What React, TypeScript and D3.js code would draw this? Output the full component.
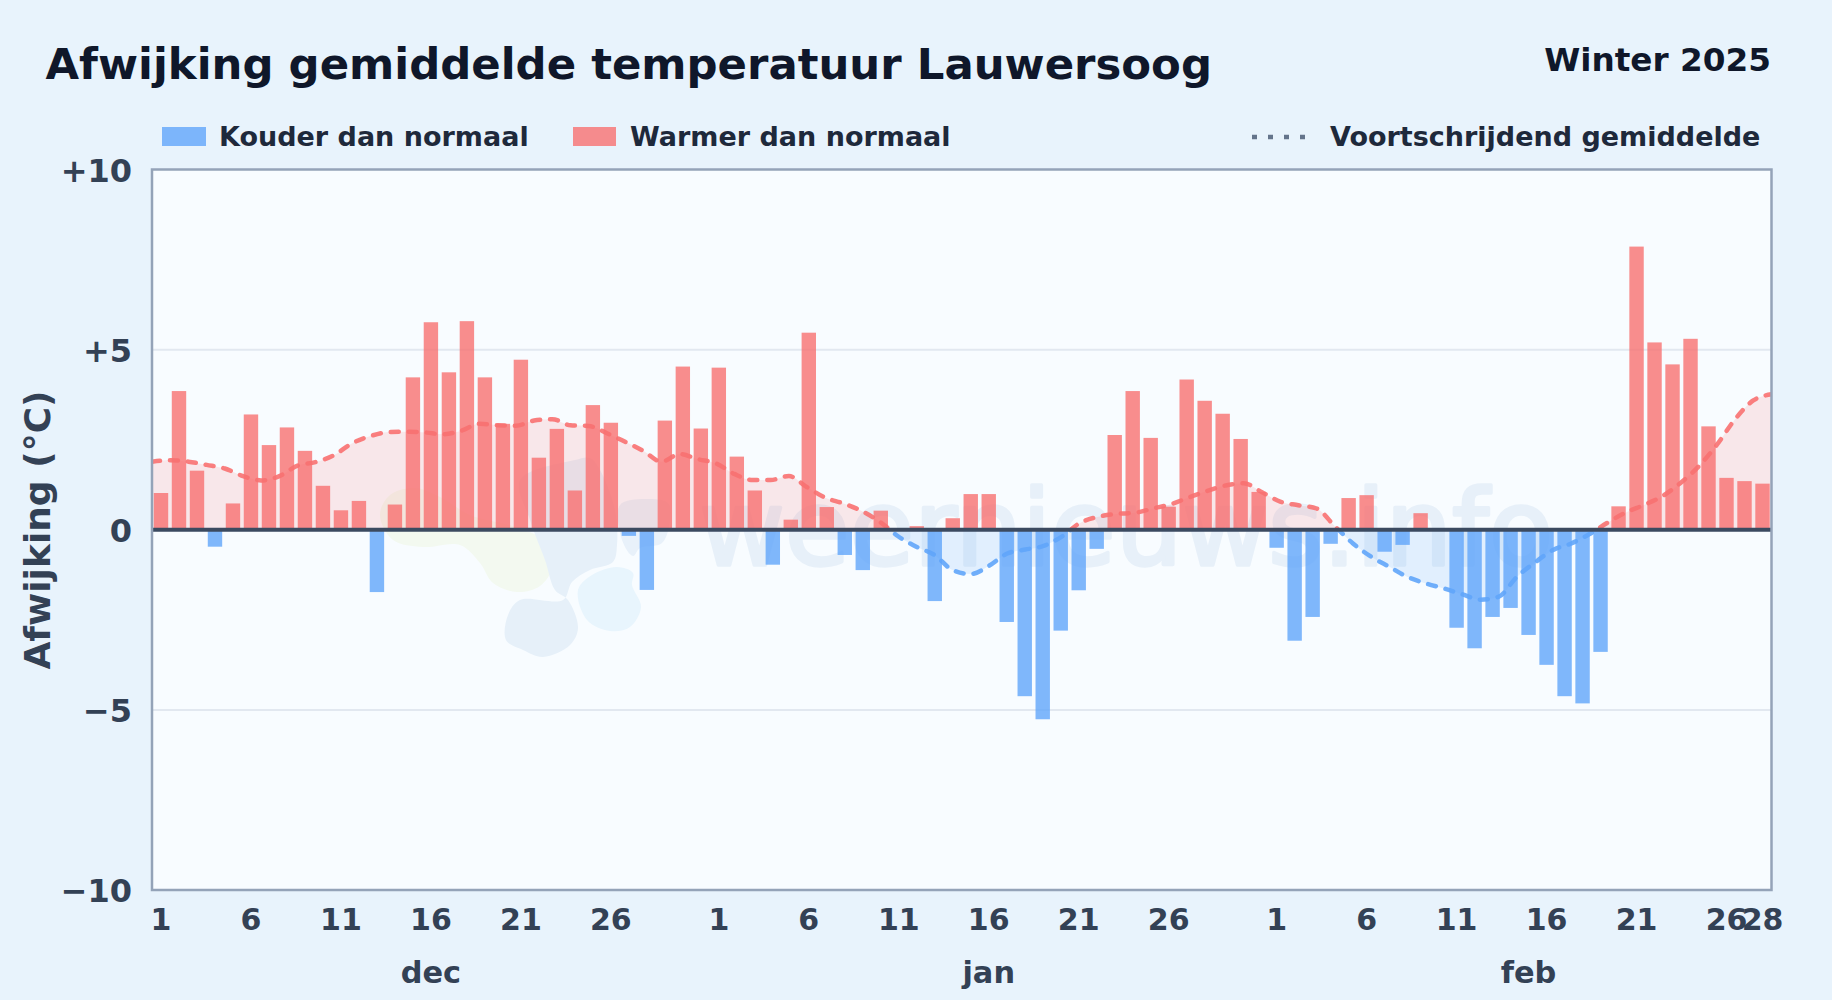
import { useEffect, useRef } from "react";
import * as d3 from "d3";

const title = "Afwijking gemiddelde temperatuur Lauwersoog";
const subtitle = "Winter 2025";

// daily deviation, 1 dec - 28 feb
const decValues = [
  1.02, 3.85, 1.64, -0.47, 0.73, 3.2, 2.35, 2.84, 2.19, 1.22, 0.54, 0.8, -1.73, 0.7, 4.23, 5.76,
  4.37, 5.79, 4.23, 2.94, 4.72, 2.0, 2.8, 1.09, 3.46, 2.97, -0.17, -1.67, 3.03, 4.53, 2.81,
];
const janValues = [
  4.5, 2.03, 1.09, -0.97, 0.28, 5.47, 0.63, -0.7, -1.12, 0.53, 0, 0.1, -1.98, 0.32, 0.99, 0.99,
  -2.56, -4.62, -5.26, -2.8, -1.68, -0.53, 2.63, 3.85, 2.55, 0.64, 4.17, 3.58, 3.22, 2.52, 1.05,
];
const febValues = [
  -0.5, -3.08, -2.42, -0.39, 0.88, 0.96, -0.61, -0.42, 0.46, 0, -2.72, -3.29, -2.42, -2.17, -2.92,
  -3.75, -4.62, -4.82, -3.39, 0.65, 7.86, 5.2, 4.59, 5.3, 2.87, 1.44, 1.35, 1.28,
];
const values = [...decValues, ...janValues, ...febValues];

const runningMean = [
  1.89, 1.93, 1.89, 1.8, 1.7, 1.49, 1.37, 1.49, 1.78, 1.88, 2.07, 2.4, 2.6, 2.71, 2.72, 2.7, 2.65,
  2.75, 2.94, 2.9, 2.89, 3.03, 3.07, 2.9, 2.88, 2.68, 2.44, 2.19, 1.89, 2.1, 1.96, 1.84, 1.55, 1.38,
  1.38, 1.49, 1.18, 0.89, 0.73, 0.52, 0.22, -0.18, -0.47, -0.7, -1.12, -1.23, -1.0, -0.66, -0.55,
  -0.45, -0.19, 0.19, 0.36, 0.44, 0.47, 0.59, 0.71, 0.9, 1.08, 1.23, 1.29, 1.04, 0.78, 0.68, 0.59,
  0.1, -0.38, -0.75, -1.03, -1.31, -1.49, -1.63, -1.79, -1.94, -1.86, -1.31, -0.91, -0.56, -0.38,
  -0.12, 0.2, 0.48, 0.69, 0.93, 1.3, 1.76, 2.36, 3.07, 3.59, 3.76,
];

const months = ["dec", "jan", "feb"];
const monthLengths = [31, 31, 28];
const monthDays = [1, 6, 11, 16, 21, 26];
const yTicks = [10, 5, 0, -5, -10];

// faint logo behind the plot, outlines in page pixels
const logoBlobs: { fill: string; pts: [number, number][] }[] = [
  {
    fill: "#f3f9f0",
    pts: [
      [380, 515], [390, 495], [415, 488], [440, 497], [470, 515], [515, 527], [548, 543], [553, 566],
      [540, 586], [517, 592], [493, 583], [480, 563], [460, 545], [423, 547], [393, 540],
    ],
  },
  {
    fill: "#e6f0f9",
    pts: [
      [520, 480], [575, 460], [590, 458], [600, 470], [615, 510], [617, 545], [613, 562], [590, 570],
      [572, 582], [563, 600], [520, 600], [508, 615], [506, 640], [523, 650], [543, 657], [570, 645],
      [578, 628], [568, 600], [555, 590], [545, 560], [530, 520],
    ],
  },
  {
    fill: "#e8f5fd",
    pts: [
      [578, 590], [592, 575], [617, 567], [633, 573], [632, 585], [641, 607], [630, 627], [610, 631],
      [587, 620],
    ],
  },
  {
    fill: "#e8f1fa",
    pts: [[620, 505], [645, 499], [668, 503], [670, 520], [662, 543], [640, 548], [633, 556], [622, 540]],
  },
];
const logoText = "weernieuws.info";

const W = 1832;
const H = 1000;
const frame = { l: 152, r: 1771.5, t: 169.5, b: 890 };

const App = () => {
  const svgRef = useRef<SVGSVGElement>(null);

  useEffect(() => {
    const svg = d3.select(svgRef.current);
    svg.selectAll("*").remove();

    const xScale = d3
      .scaleBand<number>()
      .domain(d3.range(values.length))
      .range([frame.l, frame.r])
      .paddingInner(0.2)
      .paddingOuter(0.1);
    const lineX = d3.scaleLinear().domain([0, runningMean.length - 1]).range([frame.l, frame.r]);
    const yScale = d3.scaleLinear().domain([-10, 10]).range([frame.b, frame.t]);

    svg.append("rect").attr("width", W).attr("height", H).attr("fill", "#e8f3fc");
    svg
      .append("rect")
      .attr("x", frame.l)
      .attr("y", frame.t)
      .attr("width", frame.r - frame.l)
      .attr("height", frame.b - frame.t)
      .attr("fill", "#f8fcff");

    // clips for the part above and below zero
    const defs = svg.append("defs");
    defs
      .append("clipPath")
      .attr("id", "above")
      .append("rect")
      .attr("x", frame.l)
      .attr("y", frame.t)
      .attr("width", frame.r - frame.l)
      .attr("height", yScale(0) - frame.t);
    defs
      .append("clipPath")
      .attr("id", "below")
      .append("rect")
      .attr("x", frame.l)
      .attr("y", yScale(0))
      .attr("width", frame.r - frame.l)
      .attr("height", frame.b - yScale(0));

    // watermark
    const blob = d3.line().curve(d3.curveCatmullRomClosed);
    svg
      .append("g")
      .selectAll("path")
      .data(logoBlobs)
      .join("path")
      .attr("d", (d) => blob(d.pts))
      .attr("fill", (d) => d.fill);
    svg
      .append("text")
      .attr("x", 699)
      .attr("y", 565)
      .attr("font-family", "DejaVu Sans")
      .attr("font-size", 105)
      .attr("fill", "#e7f0f9")
      .attr("stroke", "#e7f0f9")
      .attr("stroke-width", 3.5)
      .attr("stroke-linejoin", "round")
      .text(logoText);

    // gridlines
    svg
      .append("g")
      .selectAll("line")
      .data([5, -5])
      .join("line")
      .attr("x1", frame.l)
      .attr("x2", frame.r)
      .attr("y1", (d) => yScale(d))
      .attr("y2", (d) => yScale(d))
      .attr("stroke", "#e2e8f0")
      .attr("stroke-width", 2);

    const area = d3
      .area<number>()
      .x((_, i) => lineX(i))
      .y0(yScale(0))
      .y1((d) => yScale(d))
      .curve(d3.curveMonotoneX);
    const line = d3
      .line<number>()
      .x((_, i) => lineX(i))
      .y((d) => yScale(d))
      .curve(d3.curveMonotoneX);

    [
      { clip: "above", color: "#f87171" },
      { clip: "below", color: "#60a5fa" },
    ].forEach(({ clip, color }) => {
      const g = svg.append("g").attr("clip-path", `url(#${clip})`);
      g.append("path").attr("d", area(runningMean)).attr("fill", color).attr("fill-opacity", 0.15);
      g.append("path")
        .attr("d", line(runningMean))
        .attr("fill", "none")
        .attr("stroke", color)
        .attr("stroke-opacity", 0.9)
        .attr("stroke-width", 4.5)
        .attr("stroke-linecap", "round")
        .attr("stroke-dasharray", "8 10");
    });

    // bars
    svg
      .append("g")
      .selectAll("rect")
      .data(values)
      .join("rect")
      .attr("x", (_, i) => xScale(i))
      .attr("width", xScale.bandwidth())
      .attr("y", (d) => yScale(Math.max(d, 0)))
      .attr("height", (d) => Math.abs(yScale(d) - yScale(0)))
      .attr("fill", (d) => (d < 0 ? "#60a5fa" : "#f87171"))
      .attr("fill-opacity", 0.8);

    // zero line and frame
    svg
      .append("line")
      .attr("x1", frame.l)
      .attr("x2", frame.r)
      .attr("y1", yScale(0))
      .attr("y2", yScale(0))
      .attr("stroke", "#3b4a60")
      .attr("stroke-width", 4);
    svg
      .append("rect")
      .attr("x", frame.l)
      .attr("y", frame.t)
      .attr("width", frame.r - frame.l)
      .attr("height", frame.b - frame.t)
      .attr("fill", "none")
      .attr("stroke", "#94a3b8")
      .attr("stroke-width", 2.5);

    // axes
    const dayLabels: number[] = [];
    const dayTickValues: number[] = [];
    let offset = 0;
    monthLengths.forEach((len) => {
      monthDays.forEach((d) => {
        dayTickValues.push(offset + d - 1);
        dayLabels.push(d);
      });
      offset += len;
    });
    // last day of the season is labelled as well
    dayTickValues.push(offset - 1);
    dayLabels.push(monthLengths[monthLengths.length - 1]);

    const xAxis = d3
      .axisBottom(xScale)
      .tickValues(dayTickValues)
      .tickSize(0)
      .tickPadding(0)
      .tickFormat((d) => String(dayLabels[dayTickValues.indexOf(d as number)]));
    const xG = svg.append("g").attr("transform", `translate(0,${frame.b})`).call(xAxis);
    xG.select(".domain").remove();
    xG.selectAll("text")
      .attr("y", 40)
      .attr("dy", 0)
      .attr("font-family", "DejaVu Sans")
      .attr("font-weight", 700)
      .attr("font-size", 30)
      .attr("fill", "#334155");

    const yAxis = d3
      .axisLeft(yScale)
      .tickValues(yTicks)
      .tickSize(0)
      .tickPadding(0)
      .tickFormat((d) => {
        const v = d as number;
        return v > 0 ? `+${v}` : v < 0 ? `\u2212${-v}` : "0";
      });
    const yG = svg.append("g").attr("transform", `translate(${frame.l - 20},0)`).call(yAxis);
    yG.select(".domain").remove();
    yG.selectAll("text")
      .attr("dy", 11.5)
      .attr("font-family", "DejaVu Sans")
      .attr("font-weight", 700)
      .attr("font-size", 32)
      .attr("fill", "#334155");

    // month names under the middle of each month
    let start = 0;
    months.forEach((m, i) => {
      const mid = start + Math.round((monthLengths[i] - 1) / 2);
      start += monthLengths[i];
      svg
        .append("text")
        .attr("x", xScale(mid)! + xScale.bandwidth() / 2)
        .attr("y", 983)
        .attr("text-anchor", "middle")
        .attr("font-family", "DejaVu Sans")
        .attr("font-weight", 700)
        .attr("font-size", 30.4)
        .attr("fill", "#334155")
        .text(m);
    });

    const label = (x: number, y: number, size: number, color: string, text: string, anchor = "start") =>
      svg
        .append("text")
        .attr("x", x)
        .attr("y", y)
        .attr("text-anchor", anchor)
        .attr("font-family", "DejaVu Sans")
        .attr("font-weight", 700)
        .attr("font-size", size)
        .attr("fill", color)
        .text(text);

    label(45.5, 79, 43.4, "#0f172a", title);
    label(1771, 71, 32.7, "#0f172a", subtitle, "end");

    label(0, 0, 36, "#334155", "Afwijking (\u00b0C)", "middle").attr(
      "transform",
      "translate(50,530) rotate(-90)"
    );

    // legend
    svg.append("rect").attr("x", 162).attr("y", 127).attr("width", 44).attr("height", 19).attr("fill", "#60a5fa").attr("fill-opacity", 0.8);
    label(219, 146, 27, "#1e293b", "Kouder dan normaal");
    svg.append("rect").attr("x", 573).attr("y", 127).attr("width", 43).attr("height", 19).attr("fill", "#f87171").attr("fill-opacity", 0.8);
    label(630, 146, 27, "#1e293b", "Warmer dan normaal");
    svg
      .append("line")
      .attr("x1", 1252)
      .attr("x2", 1309)
      .attr("y1", 137)
      .attr("y2", 137)
      .attr("stroke", "#64748b")
      .attr("stroke-width", 4.5)
      .attr("stroke-dasharray", "5 11");
    label(1330, 146, 27, "#1e293b", "Voortschrijdend gemiddelde");
  }, []);

  return (
    <svg
      ref={svgRef}
      width={W}
      height={H}
      style={{ position: "fixed", left: 0, top: 0, display: "block" }}
    ></svg>
  );
};

export default App;
